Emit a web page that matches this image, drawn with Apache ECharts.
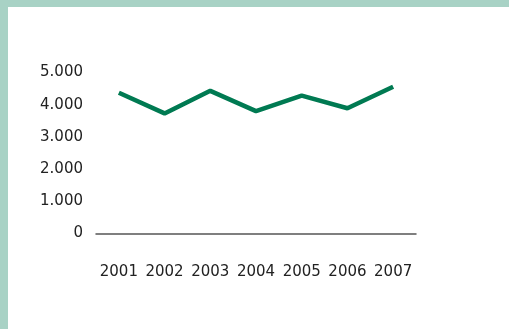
<!DOCTYPE html>
<html>
<head>
<meta charset="utf-8">
<script src="https://cdn.jsdelivr.net/npm/echarts@6/dist/echarts.min.js"></script>
<style>
html,body{margin:0;padding:0;background:#fff;}
#wrap{position:relative;width:509px;height:329px;overflow:hidden;background:#fff;}
#chart{position:absolute;left:0;top:0;width:509px;height:329px;}
#bl{position:absolute;left:0;top:0;width:8px;height:329px;background:#a8d2c5;}
#bt{position:absolute;left:0;top:0;width:509px;height:7px;background:#a8d2c5;}
</style>
</head>
<body>
<div id="wrap"><div id="chart"></div><div id="bl"></div><div id="bt"></div></div>
<script>
var years = ['2001','2002','2003','2004','2005','2006','2007'];
var values = [4370, 3730, 4430, 3800, 4280, 3890, 4560];
var yTicks = [0, 1000, 2000, 3000, 4000, 5000];

var chart = echarts.init(document.getElementById('chart'));
chart.setOption({
  animation: false,
  backgroundColor: '#fff',
  grid: {left: 96, right: 93, top: 72.5, height: 161, containLabel: false},
  xAxis: {
    type: 'category',
    data: years,
    boundaryGap: true,
    axisLine: {show: true, lineStyle: {color: '#555', width: 1.5}},
    axisTick: {show: false},
    axisLabel: {color: '#222', fontFamily: 'DejaVu Sans', fontSize: 15, margin: 31, interval: 0, hideOverlap: false}
  },
  yAxis: {
    type: 'value',
    min: yTicks[0],
    max: yTicks[yTicks.length - 1],
    interval: 1000,
    axisLine: {show: false},
    axisTick: {show: false},
    splitLine: {show: false},
    axisLabel: {
      color: '#222', fontFamily: 'DejaVu Sans', fontSize: 15, margin: 13,
      padding: [2, 0, 0, 0],
      formatter: function (v) { return v === 0 ? '0' : String(v).replace(/\B(?=(\d{3})+(?!\d))/g, '.'); }
    }
  },
  series: [{
    type: 'line',
    data: values,
    symbol: 'none',
    lineStyle: {color: '#007a52', width: 4.5},
    itemStyle: {color: '#007a52'}
  }]
});
</script>
</body>
</html>
